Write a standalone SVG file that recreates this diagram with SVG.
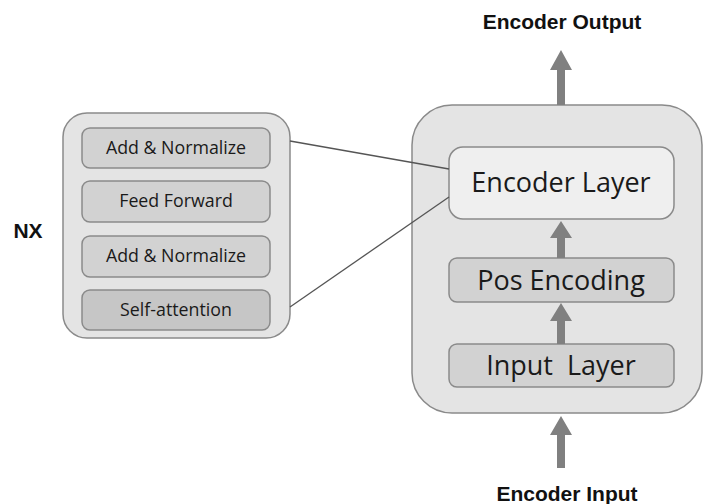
<svg xmlns="http://www.w3.org/2000/svg" width="710" height="504" viewBox="0 0 710 504">
<defs>
<style>
.cont{fill:#e4e4e4;stroke:#8a8a8a;stroke-width:1.5}
.box{fill:#d2d2d2;stroke:#8a8a8a;stroke-width:1.5}
.lt{fill:#efefef;stroke:#8a8a8a;stroke-width:1.5}
.t{font-family:"Open Sans","Noto Sans",sans-serif;fill:#1a1a1a;text-anchor:middle}
.s{font-size:17.8px}
.b{font-size:27px}
.lbl{font-family:"Liberation Sans",Arial,sans-serif;font-weight:bold;fill:#111;text-anchor:middle}
.arr{fill:#808080}
.ln{stroke:#555;stroke-width:1.3;fill:none}
</style>
</defs>
<rect width="710" height="504" fill="#ffffff"/>
<g id="nx-label"><text class="lbl" x="28" y="238" font-size="21">NX</text></g>
<g id="encoder-block">
<rect class="cont" x="412" y="105" width="290" height="308" rx="40"/>
</g>
<g id="layer-detail">
<rect class="cont" x="63" y="113" width="227" height="225" rx="24"/>
</g>
<g id="add-norm-1"><rect class="box" x="82" y="128" width="188" height="40" rx="8"/><text class="t s" x="176" y="154">Add &amp; Normalize</text></g>
<g id="feed-forward"><rect class="box" x="82" y="181" width="188" height="41" rx="8"/><text class="t s" x="176" y="207">Feed Forward</text></g>
<g id="add-norm-2"><rect class="box" x="82" y="236" width="188" height="41" rx="8"/><text class="t s" x="176" y="262">Add &amp; Normalize</text></g>
<g id="self-attention"><rect class="box" x="82" y="290" width="188" height="40" rx="8" style="fill:#c6c6c6"/><text class="t s" x="176" y="316">Self-attention</text></g>
<g id="encoder-layer"><rect class="lt" x="449" y="147" width="225" height="72" rx="14"/><text class="t b" x="561" y="192">Encoder Layer</text></g>
<g id="pos-encoding"><rect class="box" x="449" y="258" width="225" height="44" rx="8"/><text class="t b" x="561" y="290">Pos Encoding</text></g>
<g id="input-layer"><rect class="box" x="449" y="344" width="225" height="43" rx="8"/><text class="t b" x="561" y="375" xml:space="preserve">Input  Layer</text></g>
<g id="encoder-output"><text class="lbl" x="562" y="29" font-size="21">Encoder Output</text></g>
<g id="encoder-input"><text class="lbl" x="567" y="501" font-size="21">Encoder Input</text></g>
<g id="connectors">
<line class="ln" x1="290" y1="141" x2="449" y2="169"/>
<line class="ln" x1="290" y1="307" x2="449" y2="197"/>
<polygon class="arr" points="561,50 572,70 565,70 565,105 557,105 557,70 550,70"/>
<polygon class="arr" points="561,221 572,238 565,238 565,258 557,258 557,238 550,238"/>
<polygon class="arr" points="561,303 572,321 565,321 565,344 557,344 557,321 550,321"/>
<polygon class="arr" points="561,416 572,435 565,435 565,468 557,468 557,435 550,435"/>
</g>
</svg>
